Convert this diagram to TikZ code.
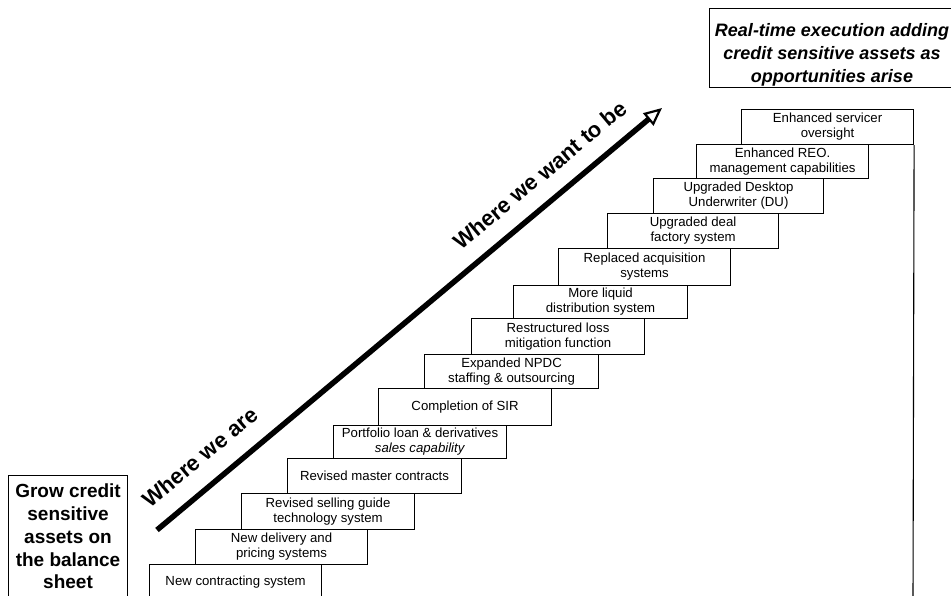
\documentclass[tikz,border=0pt]{standalone}
\usepackage{fontspec}
\setmainfont{Liberation Sans}
\usetikzlibrary{arrows.meta}
\begin{document}
\begin{tikzpicture}[x=1pt,y=-1pt,
  boxline/.style={draw, line width=1.1pt},
  stepbox/.style={boxline, anchor=north west, minimum width=173pt, inner sep=1pt,
    align=center, font=\fontsize{13.2}{15}\selectfont},
  growbox/.style={boxline, anchor=north west, minimum width=119pt, minimum height=122pt,
    inner sep=1pt, align=center, font=\bfseries\fontsize{19}{22.75}\selectfont},
  goalbox/.style={boxline, anchor=north west, minimum width=246pt, minimum height=79pt, inner sep=0pt},
  goaltext/.style={align=center, inner sep=0pt, font=\bfseries\itshape\fontsize{18}{23}\selectfont},
  bigarrow/.style={line width=5.5pt, -{Triangle[open, length=18pt, width=16pt, line width=2.2pt]}},
  slogan/.style={rotate=39.9, font=\bfseries\fontsize{22}{26}\selectfont}]
\useasboundingbox (0,0) rectangle (951,596);
\clip (0,0) rectangle (951,596);

% steps
\node[stepbox, minimum width=172pt, minimum height=36pt] (s1) at (149,564) {New contracting system};
\node[stepbox, minimum width=172pt, minimum height=35pt] (s2) at (195,529) {New delivery and\\pricing systems};
\node[stepbox, minimum height=36pt] (s3) at (241,493) {Revised selling guide\\technology system};
\node[stepbox, minimum width=174pt, minimum height=35pt] (s4) at (287,458) {Revised master contracts};
\node[stepbox, minimum height=33pt] (s5) at (333,425) {Portfolio loan \& derivatives\\\textit{sales capability}};
\node[stepbox, minimum height=37pt] (s6) at (378,388) {Completion of SIR};
\node[stepbox, minimum width=174pt, minimum height=34pt] (s7) at (424,354) {Expanded NPDC\\staffing \& outsourcing};
\node[stepbox, minimum height=36pt] (s8) at (471,318) {Restructured loss\\mitigation function};
\node[stepbox, minimum width=174pt, minimum height=33pt] (s9) at (513,285) {More liquid\\distribution system};
\node[stepbox, minimum width=172pt, minimum height=37pt] (s10) at (558,248) {Replaced acquisition\\systems};
\node[stepbox, minimum width=171pt, minimum height=35pt] (s11) at (607,213) {Upgraded deal\\factory system};
\node[stepbox, minimum width=170pt, minimum height=35pt] (s12) at (653,178) {Upgraded Desktop\\Underwriter (DU)};
\node[stepbox, minimum width=172pt, minimum height=34pt] (s13) at (696,144) {Enhanced REO.\\management capabilities};
\node[stepbox, minimum width=172pt, minimum height=35pt] (s14) at (741,109) {Enhanced servicer\\oversight};

\coordinate (floor) at (913,600);
\draw[line width=1.1pt] (s14.south east) -- (floor);

% left box
\node[growbox] (grow) at (8,475) {Grow credit\\sensitive\\assets on\\the balance\\sheet};

% goal box
\node[goalbox] (goal) at (709,8) {};
\node[goaltext] (goaltxt) at (832,54.5) {Real-time execution adding\\credit sensitive assets as\\opportunities arise};

% arrow
\coordinate (arrS) at (157,530);
\coordinate (arrE) at (662,108);
\draw[bigarrow] (arrS) -- (arrE);
\node[slogan] (here) at (200,457) {Where we are};
\node[slogan] (there) at (540,175) {Where we want to be};
\end{tikzpicture}
\end{document}
